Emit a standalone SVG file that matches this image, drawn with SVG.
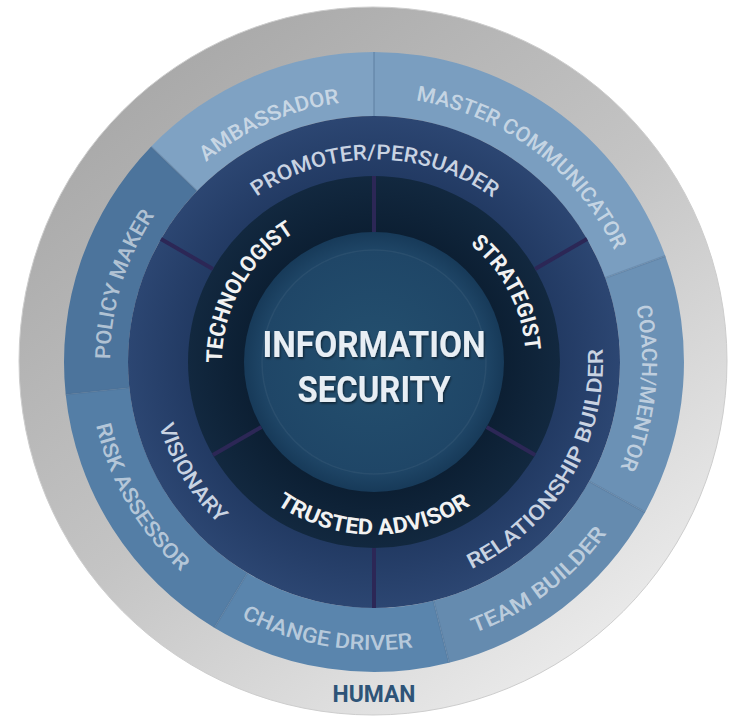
<svg xmlns="http://www.w3.org/2000/svg" width="729" height="719" viewBox="0 0 729 719">
<defs>
  <linearGradient id="gGray" x1="0.15" y1="0.05" x2="0.85" y2="0.95">
    <stop offset="0" stop-color="#a6a6a6"/>
    <stop offset="0.5" stop-color="#c4c4c4"/>
    <stop offset="1" stop-color="#eeeeee"/>
  </linearGradient>
  <radialGradient id="gNavy" cx="374" cy="362" r="246" gradientUnits="userSpaceOnUse">
    <stop offset="0.75" stop-color="#223a63"/>
    <stop offset="1" stop-color="#2c4672"/>
  </radialGradient>
  <radialGradient id="gDark" cx="374" cy="362" r="186" gradientUnits="userSpaceOnUse">
    <stop offset="0.7" stop-color="#0c1f33"/>
    <stop offset="1" stop-color="#12283f"/>
  </radialGradient>
  <radialGradient id="gCore" cx="374" cy="362" r="130" gradientUnits="userSpaceOnUse">
    <stop offset="0" stop-color="#24506f"/>
    <stop offset="0.85" stop-color="#1f4667"/>
    <stop offset="1" stop-color="#173a59"/>
  </radialGradient>
  <filter id="shadow" x="-10%" y="-20%" width="120%" height="140%">
    <feDropShadow dx="1" dy="1.5" stdDeviation="1.2" flood-color="#000" flood-opacity="0.55"/>
  </filter>
  <path id="pAmb" d="M120.5,424.3 A261,261 0 0 1 590.9,216.8"/>
  <path id="pMas" d="M193.6,167.9 A265,265 0 0 1 609.9,482.7"/>
  <path id="pCoa" d="M446.3,103.9 A268,268 0 0 1 394.3,629.2"/>
  <path id="pTea" d="M176.9,573.4 A289,289 0 0 0 631.5,230.8"/>
  <path id="pCha" d="M86.0,362.8 A288,288 0 0 0 644.9,459.8"/>
  <path id="pRis" d="M190.5,143.9 A285,285 0 0 0 471.9,629.6"/>
  <path id="pPol" d="M253.3,596.8 A264,264 0 0 1 407.1,100.1"/>
  <path id="pPro" d="M174.7,326.0 A202.5,202.5 0 0 1 573.6,327.7"/>
  <path id="pVis" d="M226.0,193.8 A224,224 0 0 0 455.5,570.6"/>
  <path id="pRel" d="M292.9,576.1 A229,229 0 0 0 523.5,188.5"/>
  <path id="pTec" d="M278.3,480.1 A152,152 0 0 1 423.5,218.3"/>
  <path id="pStr" d="M328.2,217.1 A152,152 0 0 1 466.6,482.5"/>
  <path id="pTru" d="M204.0,391.5 A172.5,172.5 0 0 0 543.8,392.4"/>
</defs>
<style>
  text { font-family: Roboto, "Liberation Sans", sans-serif; }
  .outer { font-size: 21px; font-weight: 500; fill: #ffffff; fill-opacity: 0.58; }
  .mid { font-size: 21px; font-weight: 500; fill: #c9d3e2; }
  .inner { font-size: 22px; font-weight: 700; fill: #f2f2f2; }
  .core { font-size: 36px; font-weight: 700; fill: #e8eef4; }
  .human { font-size: 23px; font-weight: 700; fill: #2e5478; }
  .seg-line { stroke: #4f6f93; stroke-opacity: 0.35; stroke-width: 2; fill: none; }
  .div-line { stroke: #2c2756; stroke-width: 4; fill: none; }
</style>

<g id="ring-human">
  <circle cx="373" cy="361" r="354" fill="url(#gGray)" stroke="#cdcdcd" stroke-width="1"/>
  <text class="human" x="374" y="702" text-anchor="middle" textLength="83" lengthAdjust="spacingAndGlyphs">HUMAN</text>
</g>

<g id="seg-ambassador">
  <path d="M151.0,146.7 A310,310 0 0 1 374,52 L374,116 A246,246 0 0 0 197.0,191.1 Z" fill="#7fa2c3"/>
  <text class="outer"><textPath href="#pAmb" startOffset="50%" text-anchor="middle" textLength="148" lengthAdjust="spacingAndGlyphs">AMBASSADOR</textPath></text>
</g>
<g id="seg-master-communicator">
  <path d="M374,52 A310,310 0 0 1 665.3,256.0 L605.2,277.9 A246,246 0 0 0 374,116 Z" fill="#7a9ec0"/>
  <text class="outer"><textPath href="#pMas" startOffset="50%" text-anchor="middle" textLength="259" lengthAdjust="spacingAndGlyphs">MASTER COMMUNICATOR</textPath></text>
</g>
<g id="seg-coach-mentor">
  <path d="M665.3,256.0 A310,310 0 0 1 645.1,512.3 L589.2,481.3 A246,246 0 0 0 605.2,277.9 Z" fill="#6b91b5"/>
  <text class="outer"><textPath href="#pCoa" startOffset="50%" text-anchor="middle" textLength="165" lengthAdjust="spacingAndGlyphs">COACH/MENTOR</textPath></text>
</g>
<g id="seg-team-builder">
  <path d="M645.1,512.3 A310,310 0 0 1 449.0,662.8 L433.5,600.7 A246,246 0 0 0 589.2,481.3 Z" fill="#658baf"/>
  <text class="outer"><textPath href="#pTea" startOffset="50%" text-anchor="middle" textLength="168" lengthAdjust="spacingAndGlyphs">TEAM BUILDER</textPath></text>
</g>
<g id="seg-change-driver">
  <path d="M449.0,662.8 A310,310 0 0 1 214.3,627.7 L247.3,572.9 A246,246 0 0 0 433.5,600.7 Z" fill="#5a85ad"/>
  <text class="outer"><textPath href="#pCha" startOffset="50%" text-anchor="middle" textLength="177" lengthAdjust="spacingAndGlyphs">CHANGE DRIVER</textPath></text>
</g>
<g id="seg-risk-assessor">
  <path d="M214.3,627.7 A310,310 0 0 1 65.7,394.4 L129.4,387.7 A246,246 0 0 0 247.3,572.9 Z" fill="#547ea6"/>
  <text class="outer"><textPath href="#pRis" startOffset="50%" text-anchor="middle" textLength="172" lengthAdjust="spacingAndGlyphs">RISK ASSESSOR</textPath></text>
</g>
<g id="seg-policy-maker">
  <path d="M65.7,394.4 A310,310 0 0 1 151.0,146.7 L197.0,191.1 A246,246 0 0 0 129.4,387.7 Z" fill="#4c749c"/>
  <text class="outer"><textPath href="#pPol" startOffset="50%" text-anchor="middle" textLength="153" lengthAdjust="spacingAndGlyphs">POLICY MAKER</textPath></text>
</g>

<g id="ring-middle">
  <circle cx="374" cy="362" r="246" fill="url(#gNavy)"/>
</g>
<g id="ring-inner">
  <circle cx="374" cy="362" r="186" fill="url(#gDark)"/>
</g>

<g id="dividers">
  <path class="seg-line" d="M374,52 L374,116 M665.3,256.0 L605.2,277.9 M645.1,512.3 L589.2,481.3 M449.0,662.8 L433.5,600.7 M214.3,627.7 L247.3,572.9 M65.7,394.4 L129.4,387.7 M151.0,146.7 L197.0,191.1"/>
  <path class="div-line" d="M212.9,269.0 L161.0,239.0 M535.1,269.0 L587.0,239.0 M374,548 L374,608"/>
  <path class="div-line" d="M374,232 L374,176 M486.6,427 L535.1,455 M261.4,427 L212.9,455"/>
</g>

<g id="seg-promoter-persuader">
  <text class="mid"><textPath href="#pPro" startOffset="50%" text-anchor="middle" textLength="252" lengthAdjust="spacingAndGlyphs">PROMOTER/PERSUADER</textPath></text>
</g>
<g id="seg-visionary">
  <text class="mid"><textPath href="#pVis" startOffset="50%" text-anchor="middle" textLength="116" lengthAdjust="spacingAndGlyphs">VISIONARY</textPath></text>
</g>
<g id="seg-relationship-builder">
  <text class="mid"><textPath href="#pRel" startOffset="50%" text-anchor="middle" textLength="272" lengthAdjust="spacingAndGlyphs">RELATIONSHIP BUILDER</textPath></text>
</g>

<g id="seg-technologist">
  <text class="inner"><textPath href="#pTec" startOffset="50%" text-anchor="middle" textLength="156" lengthAdjust="spacingAndGlyphs">TECHNOLOGIST</textPath></text>
</g>
<g id="seg-strategist">
  <text class="inner"><textPath href="#pStr" startOffset="50%" text-anchor="middle" textLength="123" lengthAdjust="spacingAndGlyphs">STRATEGIST</textPath></text>
</g>
<g id="seg-trusted-advisor">
  <text class="inner"><textPath href="#pTru" startOffset="50%" text-anchor="middle" textLength="206" lengthAdjust="spacingAndGlyphs">TRUSTED ADVISOR</textPath></text>
</g>

<g id="core-information-security">
  <circle cx="374" cy="362" r="130" fill="url(#gCore)"/>
  <circle cx="374" cy="362" r="112" fill="none" stroke="#ffffff" stroke-opacity="0.05" stroke-width="1.5"/>
  <g filter="url(#shadow)">
    <text class="core" x="374" y="357" text-anchor="middle" textLength="223" lengthAdjust="spacingAndGlyphs">INFORMATION</text>
    <text class="core" x="374" y="402" text-anchor="middle" textLength="153" lengthAdjust="spacingAndGlyphs">SECURITY</text>
  </g>
</g>
</svg>
